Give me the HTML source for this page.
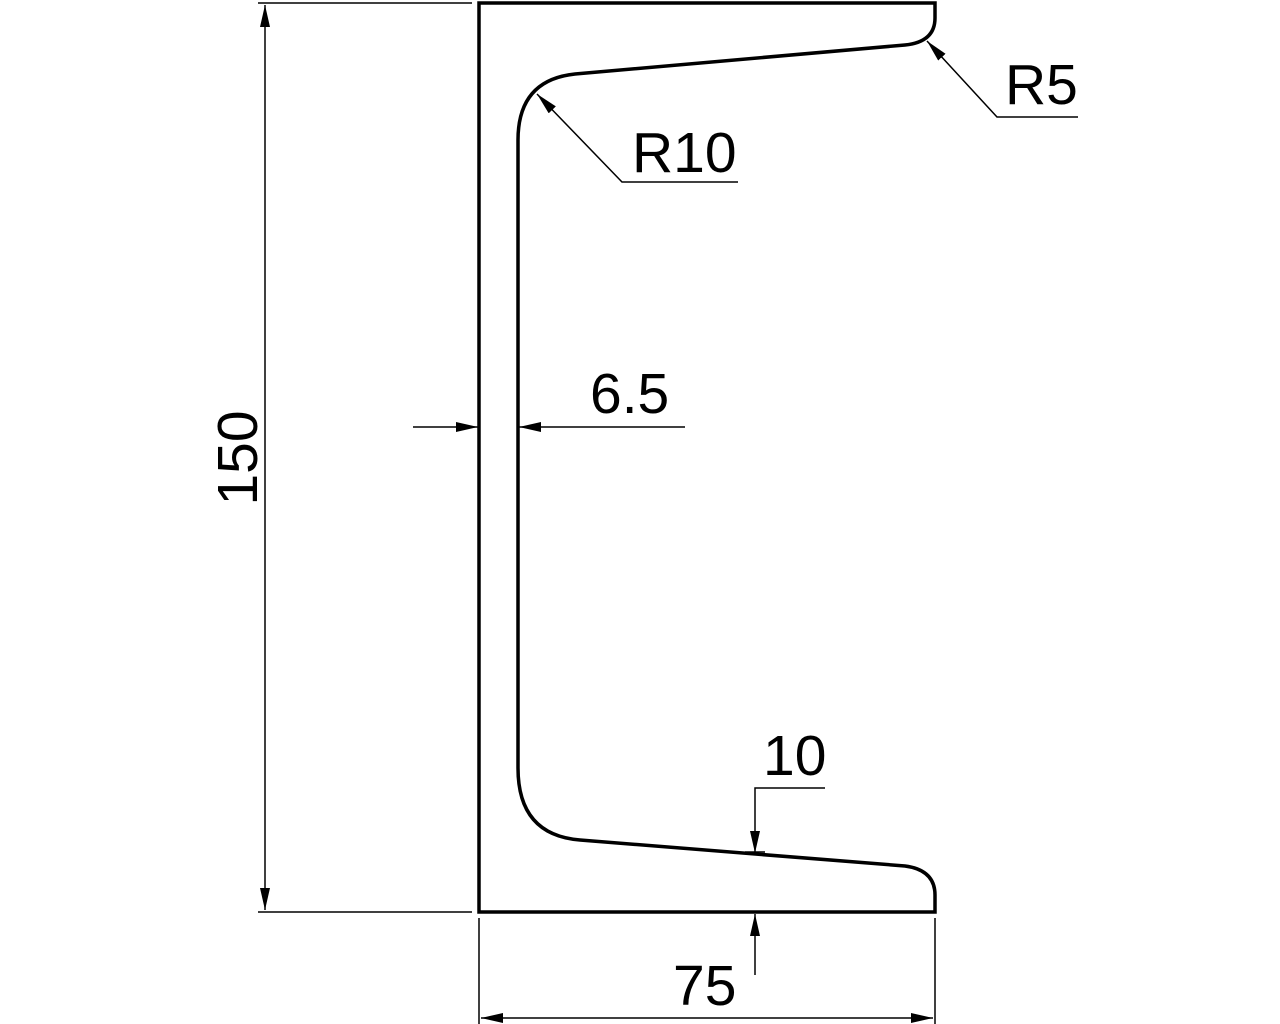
<!DOCTYPE html>
<html><head><style>body{margin:0;background:#fff}svg{display:block}text{font-family:"Liberation Sans",sans-serif;font-size:57px;fill:#000}</style></head>
<body>
<svg width="1280" height="1024" viewBox="0 0 1280 1024">
<defs>
<marker id="a" markerWidth="22" markerHeight="10" refX="22" refY="5" orient="auto" markerUnits="userSpaceOnUse"><path d="M0,0 L22,5 L0,10 Z" fill="#000"/></marker>
</defs>
<path d="M479,3 L935,3 L935,18 Q935,42 905,45 L575,74 Q518,80 518,140 L518,768 Q518,835 580,840 L905,866 Q935,870 935,895 L935,912 L479,912 Z" fill="none" stroke="#000" stroke-width="3.5"/>
<g stroke="#000" stroke-width="1.5" fill="none">
<line x1="258" y1="3" x2="472" y2="3"/><line x1="258" y1="912" x2="472" y2="912"/>
<line x1="265" y1="458" x2="265" y2="5" marker-end="url(#a)"/><line x1="265" y1="458" x2="265" y2="910" marker-end="url(#a)"/>
<line x1="413" y1="427" x2="478" y2="427" marker-end="url(#a)"/><line x1="685" y1="427" x2="519" y2="427" marker-end="url(#a)"/>
<line x1="479" y1="918" x2="479" y2="1024"/><line x1="935" y1="918" x2="935" y2="1024"/>
<line x1="707" y1="1018" x2="481" y2="1018" marker-end="url(#a)"/><line x1="707" y1="1018" x2="933" y2="1018" marker-end="url(#a)"/>
<polyline points="825,788 755,788 755,853" marker-end="url(#a)"/>
<line x1="755" y1="975" x2="755" y2="914" marker-end="url(#a)"/>
<line x1="745" y1="852" x2="765" y2="852"/>
<polyline points="738,182 622,182 537,94" marker-end="url(#a)"/>
<polyline points="1078,117 997,117 927,41" marker-end="url(#a)"/>
</g>
<text x="632" y="172">R10</text>
<text x="1005" y="104">R5</text>
<text x="590" y="413">6.5</text>
<text x="763" y="775">10</text>
<text x="673" y="1005">75</text>
<text transform="translate(257,458) rotate(-90)" text-anchor="middle">150</text>
</svg>
</body></html>
